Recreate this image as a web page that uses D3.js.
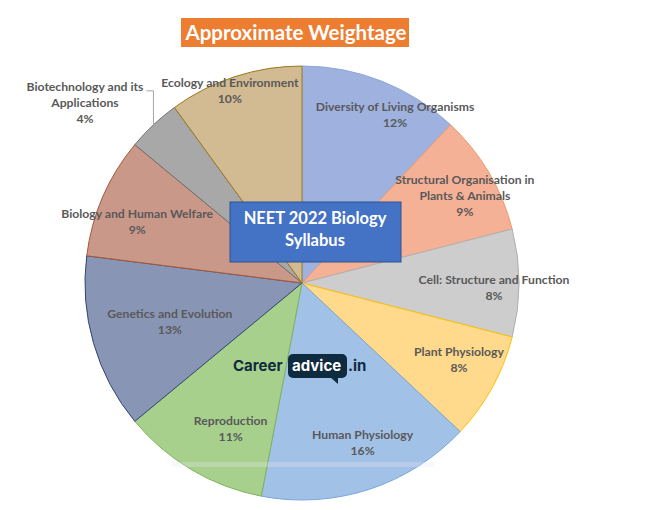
<!DOCTYPE html>
<html>
<head>
    <meta charset="utf-8">
    <style>
        body { margin: 0; background: #fff; }
        svg { display: block; font-family: Lato, 'Liberation Sans', Arial, sans-serif; }
        .slice-label { font-size: 12.2px; font-weight: bold; fill: #595959; }
        .leader { stroke: #a6a6a6; fill: none; }
    </style>
</head>
<body>
<svg width="645" height="510"></svg>

<script src="https://d3js.org/d3.v7.min.js"></script>
<script>
    // data (percent of syllabus)
    let topics = [
        "Diversity of Living Organisms",
        "Structural Organisation in\nPlants & Animals",
        "Cell: Structure and Function",
        "Plant Physiology",
        "Human Physiology",
        "Reproduction",
        "Genetics and Evolution",
        "Biology and Human Welfare",
        "Biotechnology and its\nApplications",
        "Ecology and Environment"
    ];
    let weightage = [12, 9, 8, 8, 16, 11, 13, 9, 4, 10];

    // excel-ish light tints with darker outlines
    let fills = ["#9eb1df", "#f5b196", "#cdcdcd", "#ffd98c", "#a2c1e7",
        "#a8d08d", "#8995b4", "#c99889", "#a8a8a8", "#d2ba92"];
    let strokes = ["#8fa6dc", "#eb9a6e", "#b0b0b0", "#ffc000", "#7aa7dc",
        "#7fb35a", "#2e4574", "#a4583a", "#6f6f6f", "#9c7a1a"];

    // where each label sits: fraction of radius and nudge (deg) from mid angle
    let labelRadius = [0.885, 0.85, 0.885, 0.805, 0.79, 0.75, 0.635, 0.81, 1.3, 0.945];
    let labelTurn = [7.4, 2.6, 1.5, -2.8, -2.7, -4.6, -0.3, -3.1, -7.1, -2.6];

    let cx = 302, cy = 283, radius = 217;
    let lineH = 16;

    let svg = d3.select("svg");

    let pie = d3.pie().sort(null).value(d => d.value);
    let slices = pie(topics.map((t, i) => ({ name: t, value: weightage[i], i: i })));

    let arc = d3.arc().innerRadius(0).outerRadius(radius);

    let g = svg.append("g").attr("transform", `translate(${cx},${cy})`);

    g.selectAll("path.slice")
        .data(slices)
        .join("path")
        .attr("class", "slice")
        .attr("d", arc)
        .attr("fill", d => fills[d.data.i])
        .attr("stroke", d => strokes[d.data.i])
        .attr("stroke-width", 1);

    // faint watermark band near the bottom
    svg.append("rect")
        .attr("x", 172).attr("y", 462)
        .attr("width", 262).attr("height", 5)
        .attr("fill", "#e4e8f0").attr("opacity", 0.3);

    function labelPos(d) {
        let a = (d.startAngle + d.endAngle) / 2 + labelTurn[d.data.i] * Math.PI / 180;
        let r = radius * labelRadius[d.data.i];
        return [r * Math.sin(a), -r * Math.cos(a)];
    }

    let labels = g.selectAll("text.slice-label")
        .data(slices)
        .join("text")
        .attr("class", "slice-label")
        .attr("text-anchor", "middle")
        .each(function (d) {
            let [x, y] = labelPos(d);
            let lines = d.data.name.split("\n").concat([d.data.value + "%"]);
            let t = d3.select(this);
            lines.forEach((ln, k) => {
                t.append("tspan")
                    .attr("x", x)
                    .attr("y", y + (k - (lines.length - 1) / 2) * lineH + 4)
                    .text(ln);
            });
        });

    // leader line for the label that sits outside the pie
    slices.filter(d => labelRadius[d.data.i] > 1).forEach(d => {
        let a = (d.startAngle + d.endAngle) / 2;
        let px = radius * Math.sin(a), py = -radius * Math.cos(a);
        let [lx, ly] = labelPos(d);
        let firstLine = labels.filter(e => e === d).select("tspan").node();
        let w = firstLine.getComputedTextLength();
        let topY = ly - lineH + 4;
        g.append("path")
            .attr("class", "leader")
            .attr("d", `M${px},${py}V${topY}H${lx + w / 2 + 3}`);
    });

    // title
    let title = svg.append("g");
    title.append("rect")
        .attr("x", 181).attr("y", 18).attr("width", 228).attr("height", 29)
        .attr("fill", "#ed7d31");
    title.append("text")
        .attr("x", 296).attr("y", 40)
        .attr("text-anchor", "middle")
        .attr("fill", "#fff")
        .style("font-size", "20.5px").style("font-weight", "bold")
        .text("Approximate Weightage");

    // centre box
    let box = svg.append("g");
    box.append("rect")
        .attr("x", cx - 72).attr("y", cy - 81).attr("width", 171).attr("height", 60)
        .attr("fill", "#4472c4").attr("stroke", "#2f528f").attr("stroke-width", 1);
    box.append("text")
        .attr("x", cx + 13).attr("text-anchor", "middle")
        .attr("fill", "#fff")
        .style("font-size", "16.5px").style("font-weight", "bold")
        .selectAll("tspan")
        .data(["NEET 2022 Biology", "Syllabus"])
        .join("tspan")
        .attr("x", cx + 13)
        .attr("y", (d, i) => cy - 59 + i * 22)
        .text(d => d);

    // careeradvice.in watermark
    let wm = svg.append("g").attr("transform", `translate(${cx - 69},${cy + 88})`)
        .style("font-family", "Inter, 'Open Sans', sans-serif")
        .style("font-weight", "bold").style("font-size", "15px");
    wm.append("text").attr("x", 0).attr("y", 0).attr("fill", "#0f2b40").text("Career");
    wm.append("rect")
        .attr("x", 55).attr("y", -17).attr("width", 59).attr("height", 24).attr("rx", 5)
        .attr("fill", "#0f2b40");
    wm.append("path").attr("d", "M97,6 L105,6 L105,13 Z").attr("fill", "#0f2b40");
    wm.append("text").attr("x", 59).attr("y", 0).attr("fill", "#fff").text("advice");
    wm.append("text").attr("x", 115).attr("y", 0).attr("fill", "#0f2b40").text(".in");
</script>
</body>
</html>
